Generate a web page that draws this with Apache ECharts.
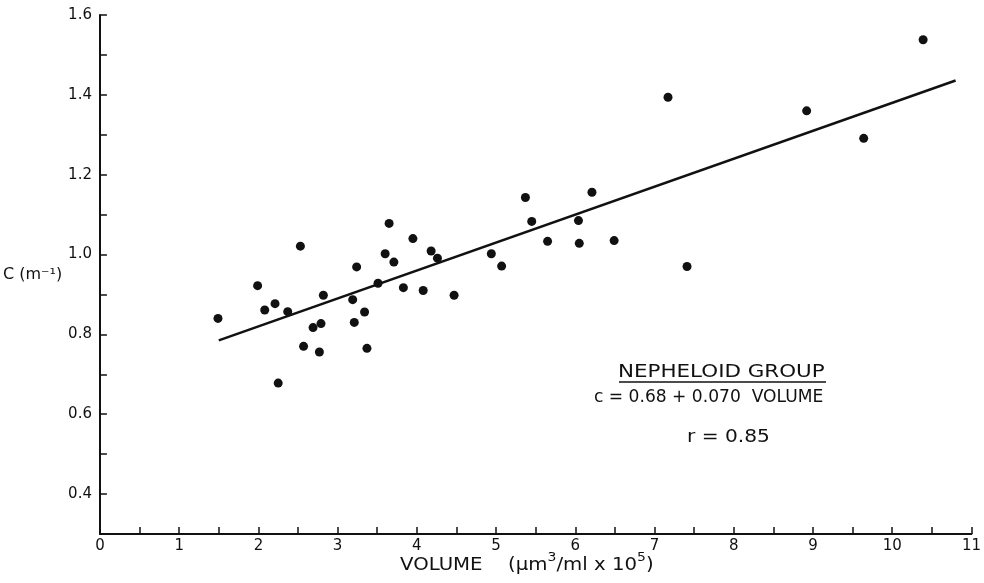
<!DOCTYPE html>
<html>
<head>
<meta charset="utf-8">
<title>Nepheloid group: attenuation vs particle volume</title>
<script src="https://cdn.jsdelivr.net/npm/echarts@6/dist/echarts.min.js"></script>
<style>
  html, body { margin: 0; padding: 0; background: #fff; }
  #chart { width: 984px; height: 583px; }
</style>
</head>
<body>
<div id="chart"></div>
<script>
// Particle volume (µm³/ml × 10⁵) for each sample
const volume = [
  1.49, 1.99, 2.08, 2.21, 2.37, 2.53, 2.25, 2.57, 2.69, 2.79,
  2.77, 2.82, 3.24, 3.19, 3.21, 3.34, 3.37, 3.51, 3.60, 3.65,
  3.71, 3.83, 3.95, 4.08, 4.18, 4.26, 4.47, 4.94, 5.07, 5.37,
  5.45, 5.65, 6.04, 6.05, 6.21, 6.49, 7.17, 7.41, 8.92, 9.64,
  10.39
];
// Beam attenuation coefficient c (m⁻¹) for the same samples
const attenuation = [
  0.840, 0.922, 0.861, 0.877, 0.857, 1.021, 0.678, 0.770, 0.817, 0.827,
  0.756, 0.898, 0.969, 0.887, 0.830, 0.856, 0.765, 0.928, 1.002, 1.078,
  0.981, 0.917, 1.040, 0.910, 1.009, 0.991, 0.898, 1.002, 0.971, 1.143,
  1.083, 1.033, 1.085, 1.028, 1.156, 1.035, 1.394, 0.970, 1.360, 1.291,
  1.538
];

// Least-squares fit stated on the chart: c = 0.68 + 0.070 VOLUME
const fitIntercept = 0.68;
const fitSlope = 0.070;
const fitRange = [1.5, 10.8];

const xTicks = { min: 0, max: 11, step: 0.5 };
const yTicks = { min: 0.3, max: 1.6, step: 0.1 };

const points = volume.map((v, i) => [v, attenuation[i]]);
const fitLine = fitRange.map(v => [v, fitIntercept + fitSlope * v]);

const ink = '#111';
const font = 'DejaVu Sans';

const chart = echarts.init(document.getElementById('chart'), null, { renderer: 'canvas' });

chart.setOption({
  backgroundColor: '#fff',
  animation: false,
  grid: { left: 97, right: 2, top: 15, bottom: 49, containLabel: false },
  xAxis: {
    type: 'value',
    min: xTicks.min,
    max: xTicks.max,
    interval: xTicks.step,
    axisLine: { lineStyle: { color: ink, width: 2 } },
    axisTick: { inside: true, length: 7, lineStyle: { color: ink, width: 1.5 } },
    axisLabel: {
      color: ink, fontFamily: font, fontSize: 15, margin: 5,
      formatter: v => (Math.abs(v - Math.round(v)) < 1e-6 ? String(Math.round(v)) : '')
    },
    splitLine: { show: false }
  },
  yAxis: {
    type: 'value',
    min: yTicks.min,
    max: yTicks.max,
    interval: yTicks.step,
    name: 'C (m⁻¹)',
    nameLocation: 'middle',
    nameRotate: 0,
    nameGap: 30,
    nameTextStyle: { color: ink, fontFamily: font, fontSize: 16, align: 'right', padding: [20, 0, 0, 0] },
    axisLine: { lineStyle: { color: ink, width: 2 } },
    axisTick: { inside: true, length: 7, lineStyle: { color: ink, width: 1.5 } },
    axisLabel: {
      color: ink, fontFamily: font, fontSize: 15, margin: 8,
      formatter: v => {
        const t = Math.round(v * 10);
        return (t % 2 === 0 && t >= 4) ? (t / 10).toFixed(1) : '';
      }
    },
    splitLine: { show: false }
  },
  series: [
    {
      name: 'fit',
      type: 'line',
      data: fitLine,
      symbol: 'none',
      lineStyle: { color: ink, width: 2.5 },
      z: 2
    },
    {
      name: 'samples',
      type: 'scatter',
      data: points,
      symbol: 'circle',
      symbolSize: 9,
      itemStyle: { color: ink, opacity: 1 },
      z: 3
    }
  ],
  graphic: [
    // x-axis title, lettered wide, with raised exponents
    {
      type: 'text',
      x: 400, y: 552, scaleX: 1.16,
      style: {
        text: '{b|VOLUME}{sp|}{b|(μm}{s|3}{b|/ml x 10}{s|5}{b|)}',
        fill: ink,
        rich: {
          b: { fontFamily: font, fontSize: 17, fill: ink, verticalAlign: 'bottom', lineHeight: 22 },
          s: { fontFamily: font, fontSize: 12, fill: ink, verticalAlign: 'top', lineHeight: 22 },
          sp: { width: 22, lineHeight: 22 }
        }
      }
    },
    // fit annotation
    {
      type: 'text',
      x: 618, y: 363, scaleX: 1.19,
      style: { text: 'NEPHELOID GROUP', fill: ink, font: '18px "DejaVu Sans"' }
    },
    {
      type: 'line',
      shape: { x1: 619, y1: 382, x2: 826, y2: 382 },
      style: { stroke: ink, lineWidth: 1.5 }
    },
    {
      type: 'text',
      x: 594, y: 388, scaleX: 0.95,
      style: { text: 'c = 0.68 + 0.070  VOLUME', fill: ink, font: '18px "DejaVu Sans"' }
    },
    {
      type: 'text',
      x: 687, y: 428, scaleX: 1.12,
      style: { text: 'r = 0.85', fill: ink, font: '18px "DejaVu Sans"' }
    }
  ]
});
</script>
</body>
</html>
